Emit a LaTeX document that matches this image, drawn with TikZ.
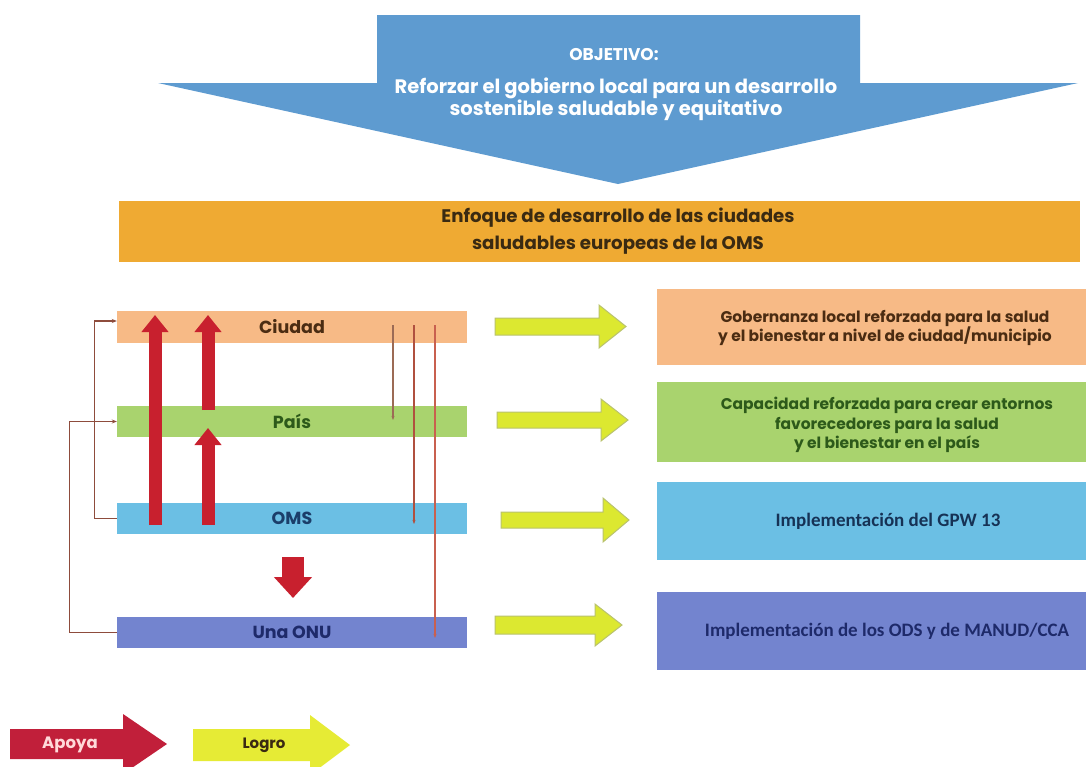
\documentclass[tikz,border=0pt]{standalone}
\usepackage{fontspec}
\setmainfont{Poppins}
\newfontfamily\carl{Carlito}
\usetikzlibrary{arrows.meta}
\definecolor{objblue}{HTML}{5E9BD0}
\definecolor{headorange}{HTML}{EFAA33}
\definecolor{headtext}{HTML}{3A2A12}
\definecolor{ciudadc}{HTML}{F7BA86}
\definecolor{ciudadt}{HTML}{4B2C12}
\definecolor{paisc}{HTML}{A9D36E}
\definecolor{paist}{HTML}{2D5A1A}
\definecolor{omsc}{HTML}{6BBFE4}
\definecolor{omst}{HTML}{1B3E6A}
\definecolor{onuc}{HTML}{7384CF}
\definecolor{onut}{HTML}{1E2A6A}
\definecolor{redc}{HTML}{C8202E}
\definecolor{apoyac}{HTML}{C11F3A}
\definecolor{logroc}{HTML}{E6EB35}
\definecolor{yelc}{HTML}{DCE830}
\definecolor{yeld}{HTML}{B9C26E}
\definecolor{brk}{HTML}{8E4C3C}
\definecolor{lineA}{HTML}{9C6B55}
\definecolor{lineB}{HTML}{B0503F}
\definecolor{lineC}{HTML}{C8604F}
\begin{document}
\begin{tikzpicture}[x=1pt,y=-1pt,
  levelbar/.style={inner sep=0pt, minimum width=350pt, font=\bfseries\fontsize{17.5}{20}\selectfont},
  goalbox/.style={inner sep=0pt, minimum width=429pt, align=center},
  boxtext/.style={align=center, font=\bfseries\fontsize{15.5}{19.5}\selectfont},
  boxtextb/.style={font=\carl\bfseries\fontsize{19}{22}\selectfont},
  redup/.style={draw=redc, line width=13pt, -{Triangle[length=17pt,width=26pt]}},
  reddown/.style={draw=redc, line width=22pt, -{Triangle[length=21pt,width=37pt]}},
  thinline/.style={line width=1.6pt, -{Stealth[length=4pt,width=3pt]}},
  bracket/.style={draw=brk, line width=1.3pt, -{Stealth[length=5pt,width=4pt]}},
  logro/.style={fill=yelc, draw=yeld, line width=1pt},
]
\useasboundingbox (0,0) rectangle (1092,766);
\fill[white] (0,0) rectangle (1092,766);

% top objective arrow
\fill[objblue] (377,15) -- (860,15) -- (860,83) -- (1078,83) -- (618,184) -- (158,83) -- (377,83) -- cycle;
\node[text=white, font=\bfseries\fontsize{17}{20}\selectfont] (objtitle) at (614,55) {OBJETIVO:};
\node[text=white, align=center, font=\bfseries\fontsize{19.5}{19}\selectfont] (objtext) at (616,99)
  {Reforzar el gobierno local para un desarrollo\\sostenible saludable y equitativo};

% header bar
\node[fill=headorange, minimum width=961pt, minimum height=61pt, inner sep=0pt] (head) at (599.5,231.5) {};
\node[text=headtext, align=center, font=\bfseries\fontsize{18.2}{27}\selectfont] (headtxt) at (618,231.5)
  {Enfoque de desarrollo de las ciudades\\saludables europeas de la OMS};

% level bars
\node[levelbar, fill=ciudadc, text=ciudadt, minimum height=32pt] (ciudad) at (292,327) {Ciudad};
\node[levelbar, fill=paisc, text=paist, minimum height=31pt] (pais) at (292,421.5) {País};
\node[levelbar, fill=omsc, text=omst, minimum height=31pt] (oms) at (292,518.5) {OMS};
\node[levelbar, fill=onuc, text=onut, minimum height=31pt] (onu) at (292,632.5) {Una ONU};

% result boxes
\node[goalbox, fill=ciudadc, minimum height=76pt] (b1) at (871.5,327) {};
\node[boxtext, text=ciudadt] (t1) at (885,328) {Gobernanza local reforzada para la salud\\y el bienestar a nivel de ciudad/municipio};
\node[goalbox, fill=paisc, minimum height=80pt] (b2) at (871.5,422) {};
\node[boxtext, text=paist] (t2) at (887,425) {Capacidad reforzada para crear entornos\\favorecedores para la salud\\y el bienestar en el país};
\node[goalbox, fill=omsc, minimum height=78pt] (b3) at (871.5,521) {};
\node[boxtextb, text=omst!80!black] (t3) at (888,521) {Implementación del GPW 13};
\node[goalbox, fill=onuc, minimum height=78pt] (b4) at (871.5,631) {};
\node[boxtextb, text=onut] (t4) at (887,631) {Implementación de los ODS y de MANUD/CCA};

% yellow "logro" arrows
\draw[logro] (495,318) -- (599,318) -- (599,305) -- (626,326.5) -- (599,348) -- (599,335) -- (495,335) -- cycle;
\draw[logro] (497,412) -- (601,412) -- (601,399) -- (628,420) -- (601,441) -- (601,428) -- (497,428) -- cycle;
\draw[logro] (501,512) -- (603,512) -- (603,498) -- (629,520) -- (603,542) -- (603,528) -- (501,528) -- cycle;
\draw[logro] (495,616) -- (595,616) -- (595,604) -- (622,625) -- (595,646) -- (595,634) -- (495,634) -- cycle;

% thick red support arrows
\coordinate (a1s) at (155,525); \coordinate (a1e) at (155,315);
\coordinate (a2s) at (208,410); \coordinate (a2e) at (208,315);
\coordinate (a3s) at (208,525); \coordinate (a3e) at (208,428);
\draw[redup] (a1s) -- (a1e);
\draw[redup] (a2s) -- (a2e);
\draw[redup] (a3s) -- (a3e);
\coordinate (ds) at (293,557); \coordinate (de) at (293,598);
\draw[reddown] (ds) -- (de);

% thin lines on the right
\coordinate (lA1) at (393,325); \coordinate (lA2) at (393,420);
\coordinate (lB1) at (414,325); \coordinate (lB2) at (414,524);
\coordinate (lC1) at (435,325); \coordinate (lC2) at (435,638);
\draw[thinline, draw=lineA] (lA1) -- (lA2);
\draw[thinline, draw=lineB] (lB1) -- (lB2);
\draw[thinline, draw=lineC] (lC1) -- (lC2);

% left brackets
\draw[bracket] (oms.west) -- ++(-22,0) |- ([yshift=6pt]ciudad.west);
\draw[bracket] (onu.west) -- ++(-47,0) |- (pais.west);

% legend
\fill[apoyac] (10,729) -- (123,729) -- (123,714) -- (167,744) -- (123,774) -- (123,759) -- (10,759) -- cycle;
\node[text=red!15!white, font=\bfseries\fontsize{16.5}{18}\selectfont] (apoya) at (70,745) {Apoya};
\fill[logroc] (193,729) -- (310,729) -- (310,715) -- (350,745) -- (310,775) -- (310,761) -- (193,761) -- cycle;
\node[text=headtext, font=\bfseries\fontsize{15}{17}\selectfont] (logrot) at (264,745) {Logro};
\end{tikzpicture}
\end{document}
